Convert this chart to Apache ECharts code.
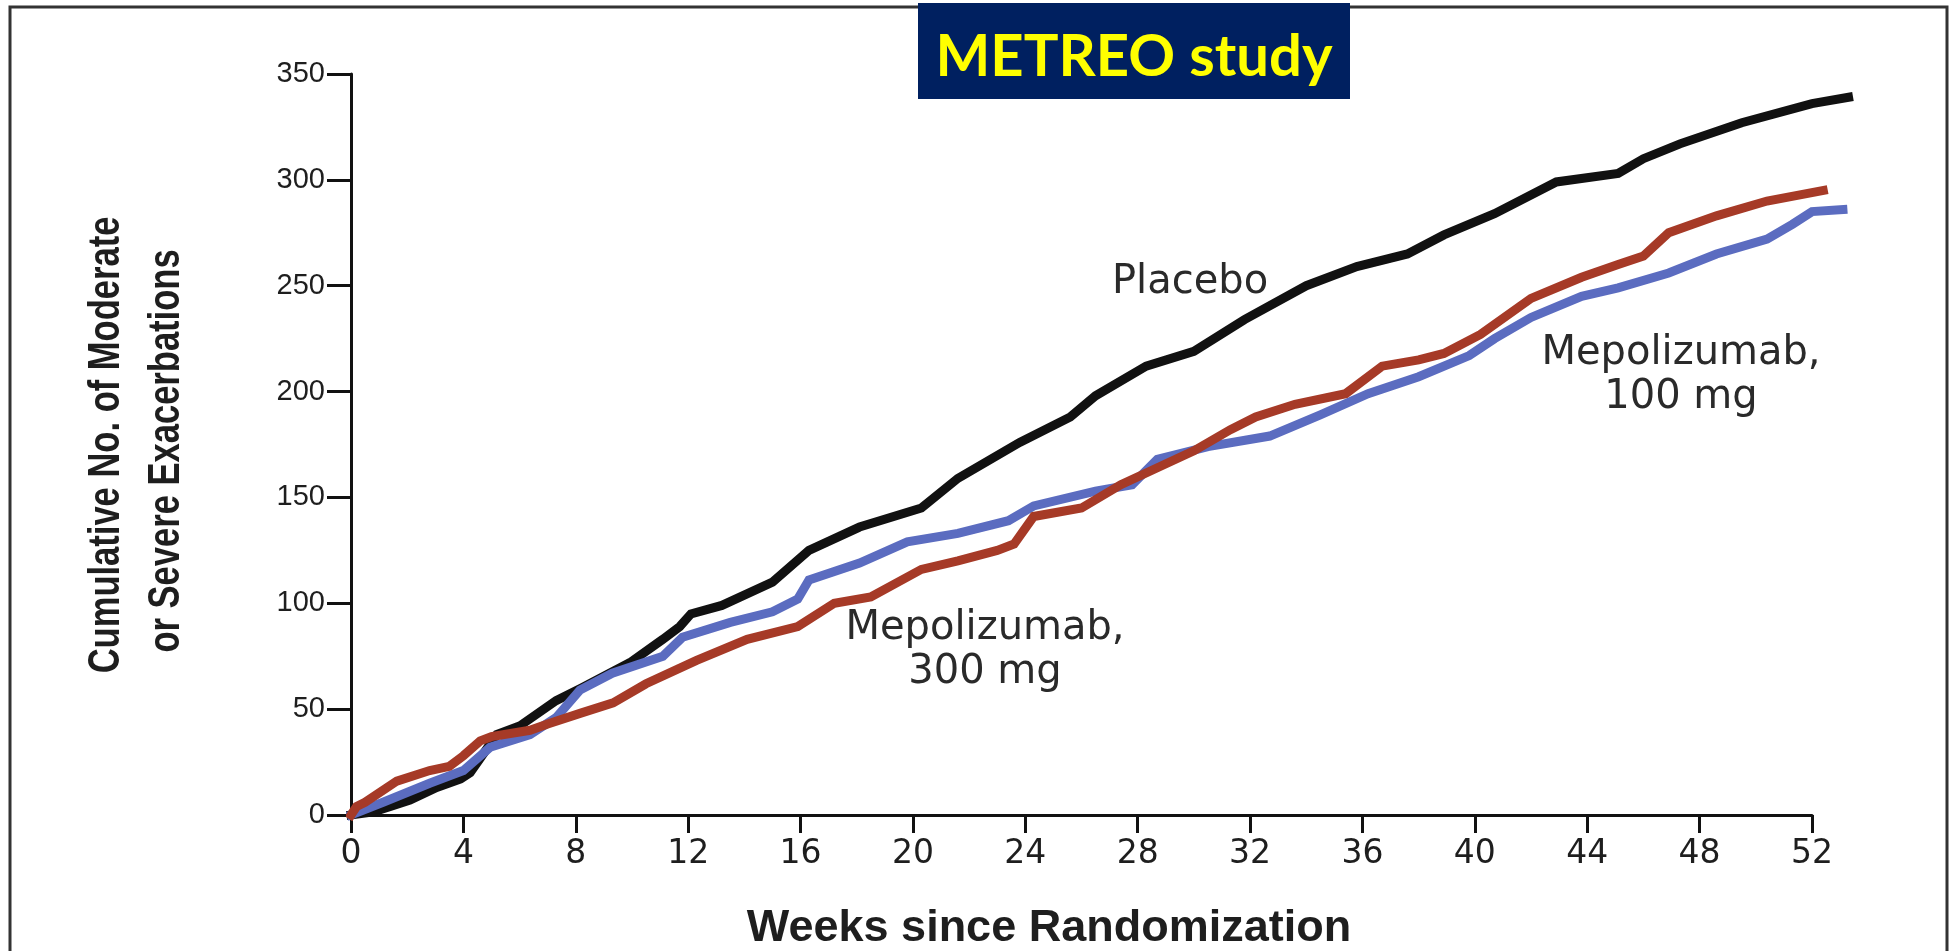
<!DOCTYPE html>
<html>
<head>
<meta charset="utf-8">
<title>METREO study</title>
<script src="https://cdn.jsdelivr.net/npm/echarts@6/dist/echarts.min.js"></script>
<style>
  html, body { margin: 0; padding: 0; background: #ffffff; }
  #chart { width: 1951px; height: 951px; }
</style>
</head>
<body>
<div id="chart"></div>
<script>
// Cumulative number of moderate or severe exacerbations by week since randomization
const weekTicks = [0, 4, 8, 12, 16, 20, 24, 28, 32, 36, 40, 44, 48, 52];
const countTicks = [0, 50, 100, 150, 200, 250, 300, 350];

const placeboWeeks = [0, 0.8, 1.4, 2.1, 3.05, 3.9, 4.24, 5.19, 6.0, 7.3, 8.2, 9.93, 11.1, 11.7, 12.1, 13.2, 15.0, 16.3, 18.1, 20.3, 21.6, 23.8, 25.6, 26.5, 28.3, 30.0, 31.8, 34.0, 35.8, 37.6, 38.9, 40.7, 42.9, 45.1, 46.0, 47.3, 49.5, 52.0, 53.3];
const placeboCounts = [0, 1.5, 4, 7, 13, 17, 20, 38, 42, 54, 60, 72, 83, 89, 95, 99, 110, 125, 136, 145, 159, 176, 188, 198, 212, 219, 234, 250, 259, 265, 274, 284, 299, 303, 310, 317, 327, 336, 339];

const mepo100Weeks = [0, 1.14, 2.8, 4.0, 4.95, 6.37, 7.3, 8.15, 9.3, 11.1, 11.8, 13.5, 15.0, 15.9, 16.3, 18.1, 19.8, 21.6, 23.4, 24.3, 26.5, 27.8, 28.7, 30.5, 32.7, 34.5, 36.2, 38.0, 39.8, 40.7, 42.0, 43.8, 45.1, 46.9, 48.6, 50.4, 51.3, 52.0, 53.1];
const mepo100Counts = [0, 6, 15, 21, 32, 38, 46, 59, 67, 75, 84, 91, 96, 102, 111, 119, 129, 133, 139, 146, 153, 156, 168, 174, 179, 189, 199, 207, 217, 225, 235, 245, 249, 256, 265, 272, 279, 285, 286];

const mepo300Weeks = [0, 0.2, 0.5, 1.63, 2.8, 3.5, 4.0, 4.6, 5.0, 6.37, 7.0, 8.15, 9.33, 10.5, 12.3, 14.1, 15.9, 17.2, 18.5, 20.3, 21.6, 23.0, 23.6, 24.3, 26.0, 27.4, 28.7, 30.0, 31.3, 32.2, 33.6, 35.4, 36.7, 38.0, 38.9, 40.2, 42.0, 43.8, 45.1, 46.0, 46.9, 48.6, 50.4, 52.4];
const mepo300Counts = [0, 4, 6, 16, 21, 23, 28, 35, 37, 40, 43, 48, 53, 62, 73, 83, 89, 100, 103, 116, 120, 125, 128, 141, 145, 156, 164, 172, 182, 188, 194, 199, 212, 215, 218, 227, 244, 254, 260, 264, 275, 283, 290, 295];

function pairs(xs, ys) {
  return xs.map((x, i) => [x, ys[i]]);
}

const chart = echarts.init(document.getElementById('chart'), null, { renderer: 'canvas' });

const textColor = '#1e1e1e';

// plot geometry: the visible axes span weeks 0..52, the curves run a little past week 52
const plotLeft = 351, plotTop = 74, plotBottom = 136;
const axisWidthPx = 1461;
const axisEndWeek = weekTicks[weekTicks.length - 1];
const curveEndWeek = 54;
const pxPerWeek = axisWidthPx / axisEndWeek;
const curveRight = 1951 - plotLeft - pxPerWeek * curveEndWeek;

function curve(name, xs, ys, color, z) {
  return {
    name: name,
    type: 'line',
    xAxisIndex: 1,
    yAxisIndex: 1,
    data: pairs(xs, ys),
    showSymbol: false,
    clip: false,
    z: z,
    lineStyle: { color: color, width: 9, cap: 'square', join: 'miter' },
    emphasis: { disabled: true },
    animation: false
  };
}

const hiddenAxis = {
  show: false,
  axisLine: { show: false }, axisTick: { show: false },
  axisLabel: { show: false }, splitLine: { show: false }
};

chart.setOption({
  backgroundColor: '#ffffff',
  animation: false,
  grid: [
    { left: plotLeft, right: 1951 - plotLeft - axisWidthPx, top: plotTop, bottom: plotBottom, containLabel: false },
    { left: plotLeft, right: curveRight, top: plotTop, bottom: plotBottom, containLabel: false }
  ],
  xAxis: [
    {
      type: 'value',
      gridIndex: 0,
      min: weekTicks[0],
      max: axisEndWeek,
      interval: 4,
      axisLine: { show: true, onZero: false, lineStyle: { color: '#111', width: 3 } },
      axisTick: { show: true, inside: false, length: 18, lineStyle: { color: '#111', width: 3 } },
      axisLabel: {
        margin: 23,
        fontFamily: 'DejaVu Sans',
        fontSize: 33,
        color: textColor,
        formatter: v => String(v)
      },
      splitLine: { show: false }
    },
    Object.assign({ type: 'value', gridIndex: 1, min: 0, max: curveEndWeek }, hiddenAxis)
  ],
  yAxis: [
    {
      type: 'value',
      gridIndex: 0,
      min: countTicks[0],
      max: countTicks[countTicks.length - 1],
      interval: 50,
      axisLine: { show: true, onZero: false, lineStyle: { color: '#111', width: 3 } },
      axisTick: { show: true, inside: false, length: 24, lineStyle: { color: '#111', width: 3 } },
      axisLabel: {
        margin: 26,
        fontFamily: 'Liberation Sans',
        fontSize: 29,
        color: textColor
      },
      splitLine: { show: false }
    },
    Object.assign({ type: 'value', gridIndex: 1, min: countTicks[0], max: countTicks[countTicks.length - 1] }, hiddenAxis)
  ],
  series: [
    curve('Placebo', placeboWeeks, placeboCounts, '#111111', 2),
    curve('Mepolizumab, 100 mg', mepo100Weeks, mepo100Counts, '#5b6cc0', 3),
    curve('Mepolizumab, 300 mg', mepo300Weeks, mepo300Counts, '#a63a27', 4)
  ],
  graphic: [
    // outer frame
    {
      type: 'rect', z: 1, silent: true,
      shape: { x: 10, y: 7, width: 1937, height: 980 },
      style: { fill: 'none', stroke: '#333333', lineWidth: 3 }
    },
    // study banner
    {
      type: 'rect', z: 10, silent: true,
      shape: { x: 918, y: 3, width: 432, height: 96 },
      style: { fill: '#002060' }
    },
    {
      type: 'text', z: 11, silent: true,
      style: {
        text: 'METREO study', x: 1134, y: 57,
        textAlign: 'center', textVerticalAlign: 'middle',
        font: 'bold 58px Lato', fill: '#ffff00'
      }
    },
    // axis titles (narrowed along the reading direction)
    {
      type: 'text', z: 5, silent: true,
      x: 107, y: 445, rotation: Math.PI / 2, scaleX: 0.785,
      style: {
        text: 'Cumulative No. of Moderate', x: 0, y: 0,
        textAlign: 'center', textVerticalAlign: 'middle',
        font: 'bold 44px "Liberation Sans"', fill: textColor
      }
    },
    {
      type: 'text', z: 5, silent: true,
      x: 167, y: 451, rotation: Math.PI / 2, scaleX: 0.785,
      style: {
        text: 'or Severe Exacerbations', x: 0, y: 0,
        textAlign: 'center', textVerticalAlign: 'middle',
        font: 'bold 44px "Liberation Sans"', fill: textColor
      }
    },
    {
      type: 'text', z: 5, silent: true,
      style: {
        text: 'Weeks since Randomization', x: 1049, y: 929,
        textAlign: 'center', textVerticalAlign: 'middle',
        font: 'bold 45px "Liberation Sans"', fill: textColor
      }
    },
    // curve labels
    {
      type: 'text', z: 5, silent: true,
      style: {
        text: 'Placebo', x: 1190, y: 283,
        textAlign: 'center', textVerticalAlign: 'middle',
        font: '40px "DejaVu Sans"', fill: '#2a2a2a'
      }
    },
    {
      type: 'text', z: 5, silent: true,
      style: {
        text: 'Mepolizumab,\n100 mg', x: 1681, y: 376,
        textAlign: 'center', textVerticalAlign: 'middle',
        font: '40px "DejaVu Sans"', lineHeight: 44, fill: '#2a2a2a'
      }
    },
    {
      type: 'text', z: 5, silent: true,
      style: {
        text: 'Mepolizumab,\n300 mg', x: 985, y: 651,
        textAlign: 'center', textVerticalAlign: 'middle',
        font: '40px "DejaVu Sans"', lineHeight: 44, fill: '#2a2a2a'
      }
    }
  ]
});
</script>
</body>
</html>
